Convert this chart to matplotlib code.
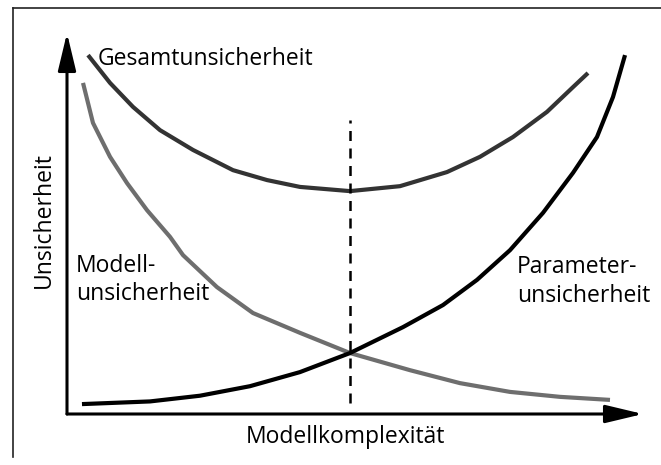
import matplotlib.pyplot as plt
from matplotlib.lines import Line2D

plt.rcParams['font.family'] = ['Open Sans', 'DejaVu Sans']

# Werte (Modellkomplexität 0..10, Unsicherheit 0..10)
gesamt_x = [0.365, 0.747, 1.146, 1.615, 2.188, 2.882, 3.472, 4.045, 4.913,
            5.781, 6.597, 7.170, 7.743, 8.333, 8.785, 9.045]
gesamt_y = [9.42, 8.69, 8.06, 7.45, 6.93, 6.40, 6.14, 5.96, 5.85,
            5.98, 6.35, 6.75, 7.27, 7.93, 8.58, 8.95]

modell_x = [0.278, 0.451, 0.747, 1.042, 1.389, 1.788, 2.014, 2.604, 3.229,
            4.045, 4.913, 5.955, 6.823, 7.691, 8.559, 9.427]
modell_y = [8.69, 7.64, 6.75, 6.06, 5.35, 4.65, 4.17, 3.33, 2.65,
            2.13, 1.60, 1.15, 0.81, 0.58, 0.45, 0.37]

param_x = [0.260, 1.441, 2.309, 3.177, 4.045, 4.913, 5.833, 6.528, 7.118,
           7.691, 8.264, 8.785, 9.201, 9.479, 9.688]
param_y = [0.26, 0.33, 0.48, 0.73, 1.10, 1.60, 2.28, 2.86, 3.52,
           4.30, 5.28, 6.33, 7.27, 8.32, 9.42]

optimum_x = 4.913
optimum_y = [0.29, 7.72]

fig = plt.figure(figsize=(6.61, 4.65), dpi=100)
ax = fig.add_axes([67/661, 51/465, 576/661, 381/465])
ax.set_xlim(0, 10)
ax.set_ylim(0, 10)
ax.axis('off')

# Rahmen (nur oben und links sichtbar)
fig.add_artist(Line2D([13/661, 1], [1 - 8/465, 1 - 8/465], color='#222222', lw=1.2))
fig.add_artist(Line2D([13/661, 13/661], [1 - 8/465, 8/465], color='#222222', lw=1.2))

# Achsen mit Pfeilen
pfeil = dict(arrowstyle='-|>,head_length=2.3,head_width=0.55', mutation_scale=10,
             lw=2.2, color='black', shrinkA=0, shrinkB=0)
ax.annotate('', xy=(10, 0), xytext=(0, 0), arrowprops=pfeil, annotation_clip=False)
ax.annotate('', xy=(0, 10), xytext=(0, 0), arrowprops=pfeil, annotation_clip=False)

stil = dict(lw=3, solid_capstyle='butt', solid_joinstyle='round', clip_on=False)
ax.plot(gesamt_x, gesamt_y, color='#333333', **stil)
ax.plot(modell_x, modell_y, color='#6e6e6e', **stil)
ax.plot(param_x, param_y, color='black', **stil)
ax.plot([optimum_x, optimum_x], optimum_y, color='black', lw=1.8, ls=(0, (4, 3)))

fs = 16.5
ax.text(0.54, 9.16, 'Gesamtunsicherheit', fontsize=fs, va='baseline')
ax.text(0.16, 3.73, 'Modell-', fontsize=fs, va='baseline')
ax.text(0.16, 2.99, 'unsicherheit', fontsize=fs, va='baseline')
ax.text(7.81, 3.70, 'Parameter-', fontsize=fs, va='baseline')
ax.text(7.81, 2.94, 'unsicherheit', fontsize=fs, va='baseline')
ax.text(4.83, -0.76, 'Modellkomplexität', fontsize=fs, ha='center', va='baseline')
ax.text(-0.40, 5.09, 'Unsicherheit', fontsize=fs, rotation=90, ha='center', va='center')

fig.savefig('out.png', dpi=100)
